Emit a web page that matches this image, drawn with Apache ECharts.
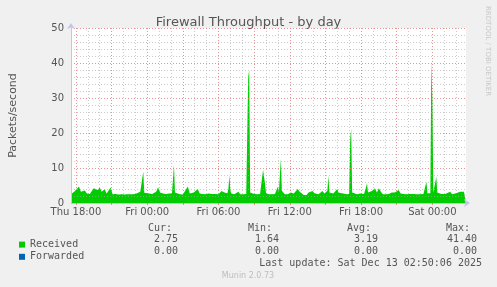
<!DOCTYPE html>
<html><head><meta charset="utf-8">
<script src="https://cdn.jsdelivr.net/npm/echarts@6/dist/echarts.min.js"></script>
<style>html,body{margin:0;padding:0;background:#f0f0f0}#c{width:497px;height:287px}</style>
</head><body><div id="c"></div>
<script>
// ---- data ----
const startTime = new Date(2025, 11, 11, 17, 35, 0).getTime(); // Thu 17:35
const spanMinutes = 1995; // until Sat 02:50
const receivedMinutes = [0,10,20,30,40,50,60,70,80,95,105,115,125,135,145,155,170,180,190,200,210,225,240,255,270,285,295,310,325,335,350,360,365,370,380,395,410,420,430,440,450,465,480,495,510,515,520,525,535,550,565,575,590,600,610,620,630,640,650,665,680,695,710,720,730,745,760,775,790,795,800,805,810,825,835,845,855,870,885,890,895,900,905,910,925,940,955,965,970,975,980,985,1000,1015,1030,1045,1050,1055,1060,1065,1070,1080,1095,1110,1125,1135,1145,1155,1165,1175,1190,1200,1210,1220,1230,1240,1250,1260,1270,1280,1290,1295,1300,1305,1315,1325,1335,1345,1350,1360,1375,1390,1405,1410,1415,1420,1430,1445,1460,1470,1480,1490,1495,1500,1510,1520,1530,1535,1545,1555,1565,1575,1590,1605,1620,1635,1645,1655,1665,1675,1690,1700,1710,1720,1730,1745,1760,1770,1780,1790,1795,1800,1810,1815,1820,1825,1830,1840,1845,1850,1860,1870,1880,1890,1900,1915,1925,1935,1945,1955,1965,1975,1985,1995];
const receivedValues = [2.5,2.4,3.4,3.2,4.7,3.2,3.7,3.6,2.7,2.6,2.3,4.2,4.7,3.7,4.4,3.2,3.9,2.7,3.0,4.4,2.5,2.6,2.4,2.5,2.4,2.5,3.0,2.5,2.6,2.7,3.2,2.8,9.0,2.9,2.7,2.7,2.6,2.8,3.2,4.5,3.0,2.7,2.6,2.7,2.7,2.8,10.9,3.0,2.5,2.5,2.4,2.5,4.7,2.7,2.8,3.0,3.0,4.0,2.7,2.6,2.5,2.7,2.6,2.7,2.6,2.5,3.4,3.0,2.8,4.0,8.0,3.5,2.7,2.5,2.6,3.2,2.5,2.5,2.6,2.8,36,38,3.0,2.6,2.6,2.5,2.6,3.0,9.5,10.0,5.5,2.8,2.5,2.5,2.6,4.7,3.0,8.0,12.6,3.5,3.0,2.5,2.5,3.0,2.7,3.0,4.0,3.2,2.7,2.3,2.3,3.0,3.0,3.4,2.8,2.7,2.5,2.9,3.4,2.7,2.5,3.5,7.8,3.0,2.5,2.7,3.0,4.0,3.0,2.5,2.7,2.5,2.6,18,21.3,3.0,2.5,2.5,2.7,3.0,2.6,4.5,5.6,3.0,2.6,3.4,3.4,4.2,3.0,4.2,3.2,2.5,2.5,2.6,3.0,3.0,3.1,3.7,2.7,2.5,2.5,2.1,2.6,2.7,2.6,2.5,2.5,3.0,2.6,2.7,6.1,2.8,2.6,2.8,40.4,30,3.0,3.0,7.5,3.0,2.6,2.6,3.0,2.6,2.6,3.2,2.5,2.6,2.8,2.7,3.2,2.7,3.2,2.75];
const forwardedMinutes = [0, 1995];
const forwardedValues = [0, 0];
const tickLabels = ['Thu 18:00', 'Fri 00:00', 'Fri 06:00', 'Fri 12:00', 'Fri 18:00', 'Sat 00:00'];
const tickLabelMinutes = [25, 385, 745, 1105, 1465, 1825];
const statHeaders = ['Cur:', 'Min:', 'Avg:', 'Max:'];
const receivedStats = ['2.75', '1.64', '3.19', '41.40'];
const forwardedStats = ['0.00', '0.00', '0.00', '0.00'];
const titleText = 'Firewall Throughput - by day';
const yName = 'Packets/second';
const lastUpdate = 'Last update: Sat Dec 13 02:50:06 2025';
const footer = 'Munin 2.0.73';
const sideText = 'RRDTOOL / TOBI OETIKER';

// ---- chart ----
const MIN = 60000, H = 3600000;
const endTime = startTime + spanMinutes * MIN;
const toPairs = (ms, vs) => ms.map((m, i) => [startTime + m * MIN, vs[i]]);
const FONT = 'DejaVu Sans';
const MONO = 'DejaVu Sans Mono';
const TXT = '#555';
const AXIS = '#c4c4f0';
const RED = 'rgba(225,110,110,0.75)';
const GREY = 'rgba(170,170,170,0.6)';
const labelTimes = tickLabelMinutes.map(m => startTime + m * MIN);

// vertical grid: every hour (grey), every 3 hours (red)
const firstHour = Math.ceil(startTime / H) * H;
const gridMarks = [];
const majorTimes = [];
for (let t = firstHour; t <= endTime; t += H) {
  const major = new Date(t).getHours() % 3 === 0;
  if (major) majorTimes.push(t);
  gridMarks.push({xAxis: t, lineStyle: {color: major ? RED : GREY, type: [1, 2], width: 1}});
}

const chart = echarts.init(document.getElementById('c'), null, {renderer: 'canvas'});
const colX = [178, 279, 378, 477];
const colH = [172, 272, 371, 470];
const graphics = [];
statHeaders.forEach((t, i) => graphics.push({type: 'text', x: colH[i], y: 228, style: {text: t, font: '10px ' + MONO, fill: TXT, textAlign: 'right', textVerticalAlign: 'middle'}}));
receivedStats.forEach((t, i) => graphics.push({type: 'text', x: colX[i], y: 239.5, style: {text: t, font: '10px ' + MONO, fill: TXT, textAlign: 'right', textVerticalAlign: 'middle'}}));
forwardedStats.forEach((t, i) => graphics.push({type: 'text', x: colX[i], y: 251.7, style: {text: t, font: '10px ' + MONO, fill: TXT, textAlign: 'right', textVerticalAlign: 'middle'}}));
graphics.push({type: 'text', x: 482, y: 263.5, style: {text: lastUpdate, font: '10px ' + MONO, fill: TXT, textAlign: 'right', textVerticalAlign: 'middle'}});
graphics.push({type: 'text', x: 248, y: 276, style: {text: footer, font: '8px ' + FONT, fill: '#bdbdbd', textAlign: 'center', textVerticalAlign: 'middle'}});
graphics.push({type: 'text', x: 488, y: 6, rotation: -Math.PI / 2, style: {text: sideText, font: '7px ' + FONT, fill: '#c8c8c8', textAlign: 'left', textVerticalAlign: 'middle'}});

chart.setOption({
  backgroundColor: '#f0f0f0',
  animation: false,
  title: {text: titleText, left: 'center', top: 11, textStyle: {fontFamily: FONT, fontSize: 13, fontWeight: 'normal', color: TXT}},
  grid: {left: 67, top: 28, width: 399, height: 175, show: true, backgroundColor: '#ffffff', borderWidth: 0, containLabel: false},
  legend: {left: 14, top: 233.5, orient: 'vertical', itemWidth: 6, itemHeight: 6, itemGap: 0, icon: 'rect',
    textStyle: {fontFamily: MONO, fontSize: 10, color: TXT, lineHeight: 12.2}, data: ['Received', 'Forwarded']},
  xAxis: {type: 'value', min: startTime, max: endTime, z: 10, scale: true,
    axisLine: {show: true, symbol: ['none', 'arrow'], symbolSize: [6, 6], symbolOffset: [0, 4], lineStyle: {color: AXIS, width: 1}},
    axisTick: {show: true, customValues: majorTimes, length: 2, lineStyle: {color: RED, width: 1}},
    splitLine: {show: false},
    axisLabel: {show: true, customValues: labelTimes, margin: 4, fontFamily: FONT, fontSize: 10, color: TXT, hideOverlap: false,
      showMinLabel: true, showMaxLabel: true,
      formatter: v => { const i = labelTimes.indexOf(v); return i >= 0 ? tickLabels[i] : ''; }}},
  yAxis: {type: 'value', min: 0, max: 50, interval: 10, z: 10,
    name: yName, nameLocation: 'middle', nameGap: 52, nameTextStyle: {fontFamily: FONT, fontSize: 11, color: TXT},
    axisLine: {show: true, symbol: ['none', 'arrow'], symbolSize: [6, 6], symbolOffset: [0, 5], lineStyle: {color: AXIS, width: 1}},
    axisTick: {show: false},
    axisLabel: {fontFamily: FONT, fontSize: 10, color: TXT, margin: 7},
    splitLine: {show: true, lineStyle: {color: RED, type: [1, 2], width: 1}},
    minorTick: {show: false, splitNumber: 5},
    minorSplitLine: {show: true, lineStyle: {color: GREY, type: [1, 2], width: 1}}},
  graphic: graphics,
  series: [
    {name: 'Received', type: 'line', data: toPairs(receivedMinutes, receivedValues), symbol: 'none', color: '#00cc00',
      lineStyle: {width: 0}, areaStyle: {color: '#00cc00', opacity: 1}, z: 3},
    {name: 'Forwarded', type: 'line', data: toPairs(forwardedMinutes, forwardedValues), symbol: 'none', color: '#0066b3',
      lineStyle: {width: 1}, z: 2,
      markLine: {silent: true, z: 1, symbol: ['none', 'none'], label: {show: false}, animation: false, data: gridMarks}}
  ]
});
</script></body></html>
